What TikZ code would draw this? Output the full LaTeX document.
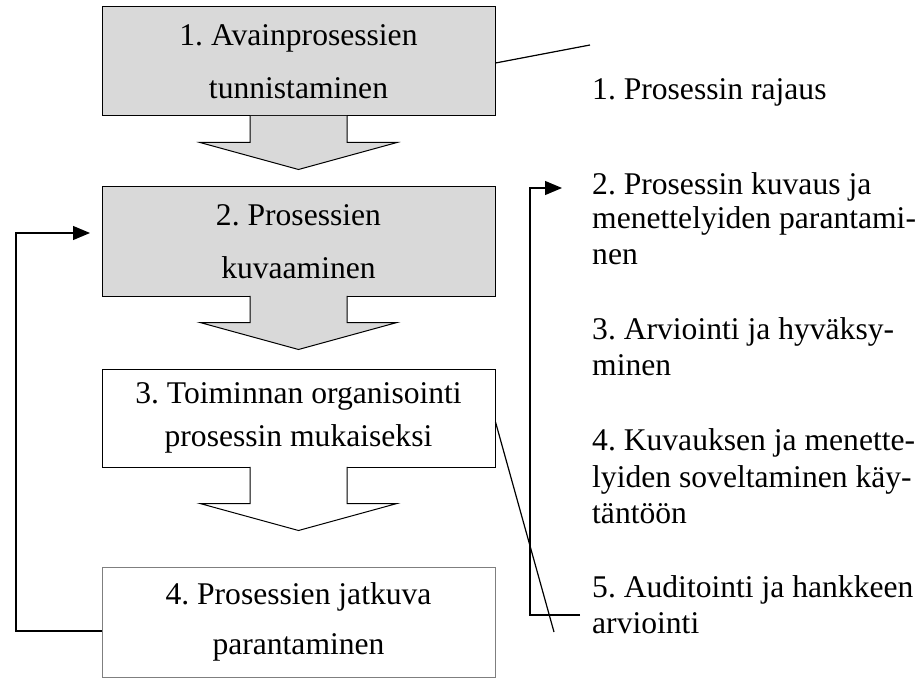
\documentclass[tikz,border=0pt]{standalone}
\usepackage{fontspec}
\setmainfont{Liberation Serif}
\usetikzlibrary{arrows.meta,calc}
\definecolor{boxgray}{HTML}{D9D9D9}
\definecolor{edgegray}{HTML}{7F7F7F}
\frenchspacing
\begin{document}
\frenchspacing
\begin{tikzpicture}[x=1pt,y=-1pt,
  box/.style={draw, line width=1pt, minimum width=393pt, minimum height=109pt,
    inner sep=0pt, align=center, font=\fontsize{31.6}{53}\selectfont},
  graybox/.style={box, fill=boxgray},
  blk/.style={draw, line width=1pt, line join=miter},
  conn/.style={line width=1.2pt},
  arr/.style={conn, -{Triangle[length=17pt,width=14pt]}},
  rtext/.style={anchor=base west, inner sep=0pt, font=\fontsize{31.6}{36}\selectfont}]
\useasboundingbox (0,0) rectangle (923,679);

% boxes
\node[graybox] (b1) at (298.5,61.5) {1. Avainprosessien\\tunnistaminen};
\node[graybox] (b2) at (298.5,241.5) {2. Prosessien\\kuvaaminen};
\node[box, fill=white, minimum height=98pt, font=\fontsize{31.6}{43}\selectfont]
  (b3) at (298.5,418) {3. Toiminnan organisointi\\prosessin mukaiseksi};
\node[box, fill=white, draw=edgegray, minimum height=110pt, font=\fontsize{31.6}{50}\selectfont]
  (b4) at (298.5,622) {4. Prosessien jatkuva\\parantaminen};

% block arrows
\foreach \a/\s/\f in {b1/26/boxgray, b2/26/boxgray, b3/36/white}{
  \filldraw[blk, fill=\f] ($(\a.south)+(-48.5,-0.6)$) -- ++(0,\s+0.6) -- ++(-50,0)
    -- ($(\a.south)+(0,\s+27)$) -- ($(\a.south)+(98.5,\s)$) -- ++(-50,0)
    -- ($(\a.south)+(48.5,-0.6)$);
}

% right texts
\node[rtext] (t1)  at (592,100) {1. Prosessin rajaus};
\node[rtext] (t2a) at (592,194) {2. Prosessin kuvaus ja};
\node[rtext] (t2b) at (592,229) {menettelyiden parantami-};
\node[rtext] (t2c) at (592,264) {nen};
\node[rtext] (t3a) at (592,339) {3. Arviointi ja hyväksy-};
\node[rtext] (t3b) at (592,375) {minen};
\node[rtext] (t4a) at (592,450) {4. Kuvauksen ja menette-};
\node[rtext] (t4b) at (592,487) {lyiden soveltaminen käy-};
\node[rtext] (t4c) at (592,523) {täntöön};
\node[rtext] (t5a) at (592,597) {5. Auditointi ja hankkeen};
\node[rtext] (t5b) at (592,633) {arviointi};

% connector coordinates
\coordinate (c1) at (590,45);
\coordinate (c3) at (554,632);
\coordinate (lb) at (16,631);
\coordinate (lt) at (16,233);
\coordinate (la) at (90,233);
\coordinate (rb) at (580,615);
\coordinate (rc) at (530,615);
\coordinate (rt) at (530,188);
\coordinate (ra) at (562,188);

% connectors
\draw[conn] ([yshift=-1.5pt]b1.east) -- (c1);
\draw[conn] ([yshift=-4pt]b3.east) -- (c3);
\draw[arr] (b4.west |- lb) -- (lb) -- (lt) -- (la);
\draw[arr] (rb) -- (rc) -- (rt) -- (ra);
\end{tikzpicture}
\end{document}
